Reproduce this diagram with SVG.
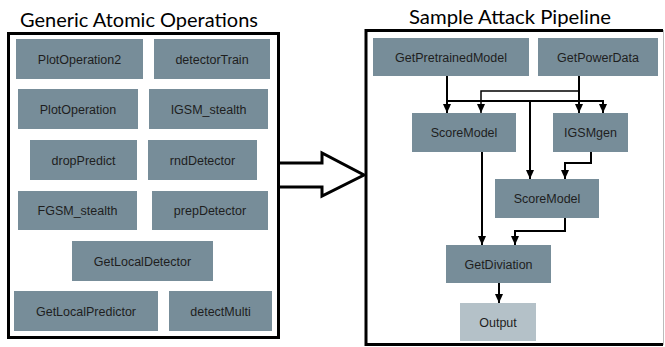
<svg xmlns="http://www.w3.org/2000/svg" width="665" height="347" viewBox="0 0 665 347">
<defs>
<style>
.n rect{fill:#778d99;}
.o rect{fill:#b4c1c8;}
.n text,.o text{font-family:"Liberation Sans",Arial,sans-serif;font-size:12.5px;fill:#1e1e1e;text-anchor:middle;}
.title{font-family:Lato,"Open Sans",sans-serif;font-size:20px;fill:#000;}
.c path{fill:none;stroke:#000;stroke-width:2;}
.c path.thin{stroke-width:1.5;}
</style>
<marker id="ah" markerUnits="userSpaceOnUse" markerWidth="10" markerHeight="10" viewBox="0 0 10 10" refX="9" refY="5" orient="auto">
<path d="M0,1 L9,5 L0,9 Z" fill="#000"/>
</marker>
</defs>
<rect width="665" height="347" fill="#fff"/>
<text class="title" x="20" y="27" textLength="238" lengthAdjust="spacingAndGlyphs">Generic Atomic Operations</text>
<text class="title" x="409" y="24" textLength="202" lengthAdjust="spacingAndGlyphs">Sample Attack Pipeline</text>
<g id="leftFrame"><rect x="8.5" y="33.5" width="270" height="304" fill="none" stroke="#000" stroke-width="3"/></g>
<g id="rightFrame">
<path d="M663,30.5 H366 V344.5 H663" fill="none" stroke="#000" stroke-width="3"/>
<line x1="663.5" y1="30" x2="663.5" y2="345" stroke="#bbb" stroke-width="1"/>
</g>
<g id="bigArrow"><path d="M280,163 H322 V153 L364,175 L322,196 V187 H280" fill="#fff" stroke="#000" stroke-width="3" stroke-linejoin="miter"/></g>

<g id="PlotOperation2" class="n"><rect x="16" y="39" width="127" height="40"/><text x="79.5" y="63.5">PlotOperation2</text></g>
<g id="detectorTrain" class="n"><rect x="154" y="39" width="116" height="40"/><text x="212" y="63.5">detectorTrain</text></g>
<g id="PlotOperation" class="n"><rect x="18" y="89" width="120" height="40"/><text x="78" y="113.5">PlotOperation</text></g>
<g id="IGSM_stealth" class="n"><rect x="149" y="89" width="119" height="40"/><text x="208.5" y="113.5">IGSM_stealth</text></g>
<g id="dropPredict" class="n"><rect x="30" y="140" width="107" height="40"/><text x="83.5" y="164.5">dropPredict</text></g>
<g id="rndDetector" class="n"><rect x="148" y="140" width="109" height="40"/><text x="202.5" y="164.5">rndDetector</text></g>
<g id="FGSM_stealth" class="n"><rect x="18" y="191" width="119" height="39"/><text x="77.5" y="215">FGSM_stealth</text></g>
<g id="prepDetector" class="n"><rect x="152" y="191" width="116" height="39"/><text x="210" y="215">prepDetector</text></g>
<g id="GetLocalDetector" class="n"><rect x="72" y="241" width="141" height="40"/><text x="142.5" y="265.5">GetLocalDetector</text></g>
<g id="GetLocalPredictor" class="n"><rect x="14" y="291" width="144" height="40"/><text x="86" y="315.5">GetLocalPredictor</text></g>
<g id="detectMulti" class="n"><rect x="169" y="291" width="103" height="40"/><text x="220.5" y="315.5">detectMulti</text></g>

<g id="connectors" class="c">
<path d="M447,76 V113" marker-end="url(#ah)"/>
<path d="M447,101 H603 V113" marker-end="url(#ah)"/>
<path d="M530,101 V179" marker-end="url(#ah)"/>
<path d="M579,76 V113" marker-end="url(#ah)"/>
<path class="thin" d="M579,91 H481 V113" marker-end="url(#ah)"/>
<path d="M591,152 V163 H565 V179" marker-end="url(#ah)"/>
<path d="M482,152 V245" marker-end="url(#ah)"/>
<path d="M565,218 V231 H515 V245" marker-end="url(#ah)"/>
<path d="M499,283 V303" marker-end="url(#ah)"/>
</g>

<g id="GetPretrainedModel" class="n"><rect x="373" y="38" width="156" height="38"/><text x="451" y="61.5">GetPretrainedModel</text></g>
<g id="GetPowerData" class="n"><rect x="538" y="38" width="120" height="38"/><text x="598" y="61.5">GetPowerData</text></g>
<g id="ScoreModel1" class="n"><rect x="412" y="113" width="104" height="39"/><text x="464" y="137">ScoreModel</text></g>
<g id="IGSMgen" class="n"><rect x="553" y="113" width="75" height="39"/><text x="590.5" y="137">IGSMgen</text></g>
<g id="ScoreModel2" class="n"><rect x="495" y="179" width="104" height="39"/><text x="547" y="203">ScoreModel</text></g>
<g id="GetDiviation" class="n"><rect x="446" y="245" width="105" height="38"/><text x="498.5" y="268.5">GetDiviation</text></g>
<g id="Output" class="o"><rect x="460" y="303" width="76" height="38"/><text x="498" y="326.5">Output</text></g>
</svg>
